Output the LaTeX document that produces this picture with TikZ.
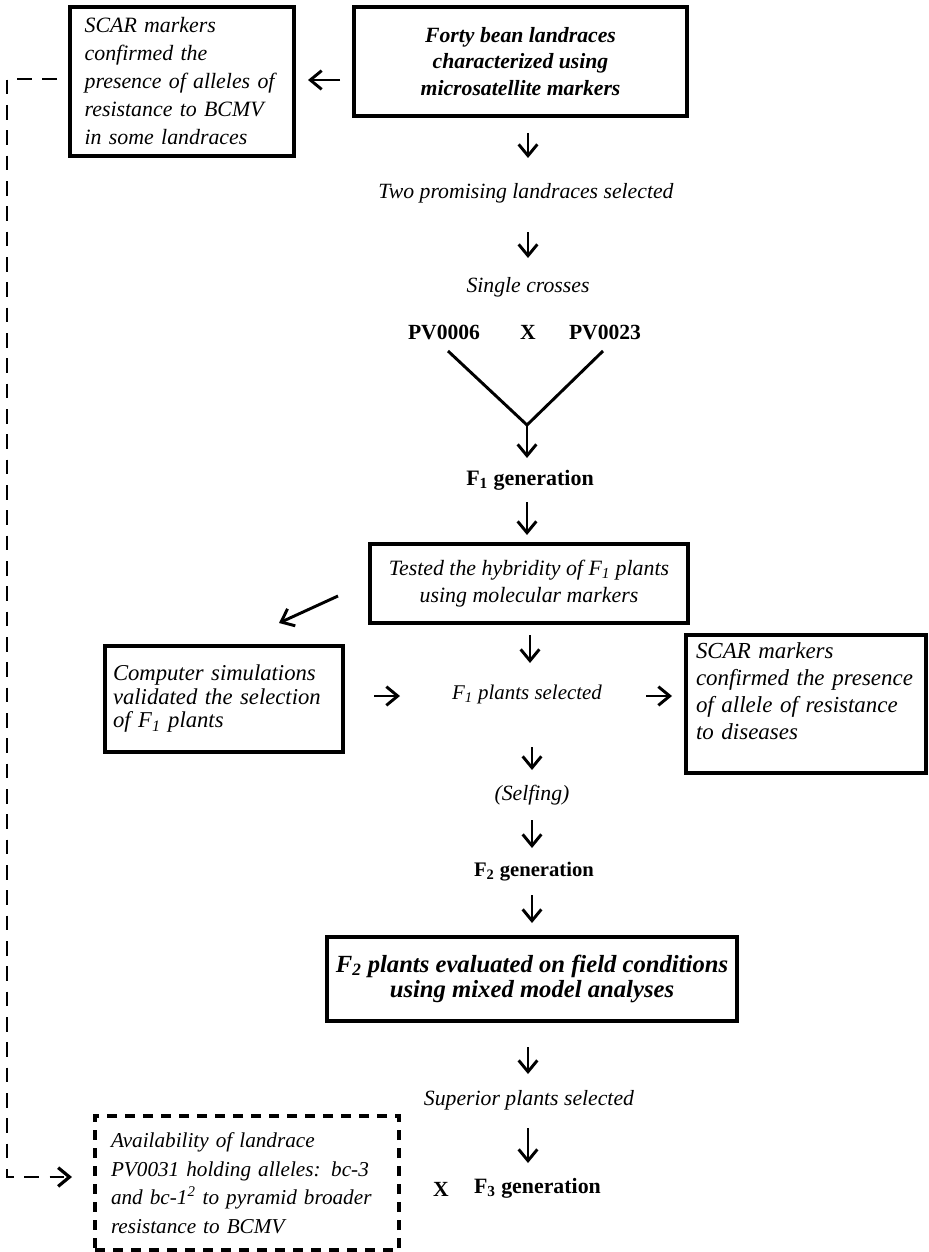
\documentclass[tikz,border=0pt]{standalone}
\usepackage{fontspec}
\setmainfont{Liberation Serif}
\usetikzlibrary{arrows.meta}
\newcommand\myfs[2]{\fontsize{#1pt}{#2pt}\selectfont}
\begin{document}
\begin{tikzpicture}[x=0.75pt,y=-0.75pt,
  box/.style={draw,line width=2.5pt,inner ysep=0pt},
  dbox/.style={draw,line width=2.6pt,dash pattern=on 7.5pt off 6pt,inner ysep=0pt},
  arr/.style={line width=2.2pt,-{Straight Barb[length=8.5pt,width=14pt]}},
  darr/.style={line width=1.9pt,dash pattern=on 11pt off 8pt,-{Straight Barb[length=8.5pt,width=14pt,line width=2.4pt]}},
  vline/.style={line width=2.2pt},
  lab/.style={inner sep=0pt},
  it/.style={font=\itshape\myfs{16.3}{20}},
  bf/.style={font=\bfseries\myfs{16.2}{20}},
]
\useasboundingbox (0,0) rectangle (928,1252);

% boxes
\node[box,minimum width=168pt,minimum height=111.75pt,text width=146pt,inner xsep=11pt,align=left,font=\itshape\myfs{16.4}{21}]
  (scar1) at (182,81.5) {SCAR markers\\confirmed the\\presence of alleles of\\resistance to BCMV\\in some landraces};
\node[box,minimum width=249.75pt,minimum height=81.75pt,align=center,font=\bfseries\itshape\myfs{16.3}{19.9}]
  (forty) at (520.5,61.5) {Forty bean landraces\\characterized using\\microsatellite markers};
\node[box,minimum width=238.5pt,minimum height=59.25pt,align=center,font=\itshape\myfs{16.4}{20.25}]
  (tested) at (529,583.5) {Tested the hybridity of F\textsubscript{1} plants\\using molecular markers};
\node[box,minimum width=178.5pt,minimum height=79.5pt,text width=166.5pt,inner xsep=6pt,align=left,font=\itshape\myfs{17}{17.6}]
  (comp) at (224,699) {Computer simulations\\validated the selection\\of F\textsubscript{1} plants};
\node[box,minimum width=180pt,minimum height=103.5pt,text width=165pt,inner xsep=7.5pt,align=left,font=\itshape\myfs{17.2}{20.25}]
  (scar2) at (806,704) {SCAR markers\\confirmed the presence\\of allele of resistance\\to diseases\\[-6.5pt]\strut};
\node[box,minimum width=307.5pt,minimum height=63pt,align=center,font=\bfseries\itshape\myfs{18.5}{19}]
  (f2box) at (532,979) {F\textsubscript{2} plants evaluated on field conditions\\using mixed model analyses};
\node[dbox,minimum width=228pt,minimum height=100.5pt,text width=204pt,inner xsep=12pt,align=left,font=\itshape\myfs{15.9}{21.4}]
  (avail) at (247,1183) {Availability of landrace\\PV0031 holding alleles: bc-3\\and bc-1\textsuperscript{2} to pyramid broader\\resistance to BCMV};

% plain labels
\node[lab,it] (two) at (526,193) {Two promising landraces selected};
\node[lab,it] (single) at (528,287) {Single crosses};
\node[lab,bf] (pv6) at (444,332) {PV0006};
\node[lab,bf] (cross1) at (528,332) {X};
\node[lab,bf] (pv23) at (605,332) {PV0023};
\node[lab,font=\bfseries\myfs{16.5}{20}] (f1gen) at (530,480) {F\textsubscript{1} generation};
\node[lab,font=\itshape\myfs{15.7}{20}] (f1sel) at (527,694) {F\textsubscript{1} plants selected};
\node[lab,it] (selfing) at (532,795) {(Selfing)};
\node[lab,font=\bfseries\myfs{15.5}{20}] (f2gen) at (534,872) {F\textsubscript{2} generation};
\node[lab,it] (superior) at (529,1100) {Superior plants selected};
\node[lab,bf] (cross2) at (441,1189) {X};
\node[lab,font=\bfseries\myfs{16.4}{20}] (f3gen) at (537.5,1188) {F\textsubscript{3} generation};

% arrow end points
\coordinate (l1s) at (340,80);   \coordinate (l1e) at (308,80);
\coordinate (a1s) at (528,133);  \coordinate (a1e) at (528,158);
\coordinate (a2s) at (528,232);  \coordinate (a2e) at (528,258);
\coordinate (vl) at (448,351);   \coordinate (vr) at (603,351);
\coordinate (vb) at (527,425);   \coordinate (a3e) at (527,458);
\coordinate (a4s) at (527,502);  \coordinate (a4e) at (527,535);
\coordinate (d1s) at (338,596);  \coordinate (d1e) at (279,623);
\coordinate (a6s) at (530,635);  \coordinate (a6e) at (530,663);
\coordinate (r1s) at (374,696);  \coordinate (r1e) at (400,696);
\coordinate (r2s) at (646,696);  \coordinate (r2e) at (672,696);
\coordinate (a9s) at (532,747);  \coordinate (a9e) at (532,770);
\coordinate (a10s) at (532,820); \coordinate (a10e) at (532,848);
\coordinate (a11s) at (532,895); \coordinate (a11e) at (532,923);
\coordinate (a12s) at (528,1047);\coordinate (a12e) at (528,1074);
\coordinate (a13s) at (528,1128);\coordinate (a13e) at (528,1163);
\coordinate (ds) at (57,79);     \coordinate (dc1) at (7,79);
\coordinate (dc2) at (7,1177);   \coordinate (de) at (72,1177);

% connectors
\draw[arr] (l1s) -- (l1e);
\draw[arr] (a1s) -- (a1e);
\draw[arr] (a2s) -- (a2e);
\draw[vline] (vl) -- (vb) -- (vr);
\draw[arr] (vb) -- (a3e);
\draw[arr] (a4s) -- (a4e);
\draw[arr] (d1s) -- (d1e);
\draw[arr] (a6s) -- (a6e);
\draw[arr] (r1s) -- (r1e);
\draw[arr] (r2s) -- (r2e);
\draw[arr] (a9s) -- (a9e);
\draw[arr] (a10s) -- (a10e);
\draw[arr] (a11s) -- (a11e);
\draw[arr] (a12s) -- (a12e);
\draw[arr] (a13s) -- (a13e);
\draw[darr] (ds) -- (dc1) -- (dc2) -- (de);
\end{tikzpicture}
\end{document}
